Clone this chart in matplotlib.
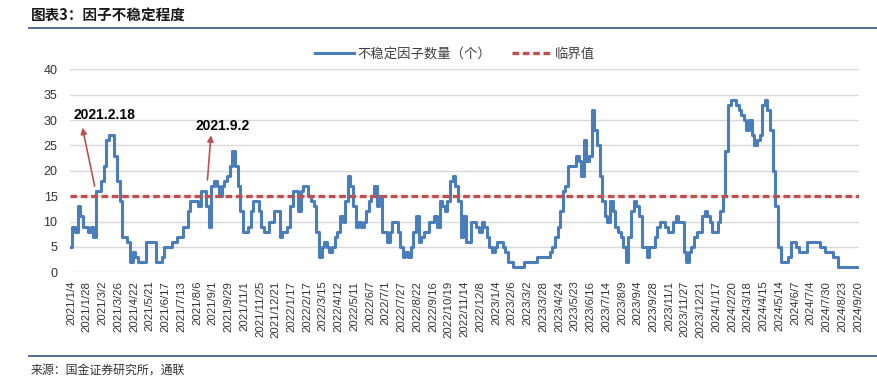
import numpy as np
import matplotlib
matplotlib.use("Agg")
import matplotlib.pyplot as plt
from matplotlib.lines import Line2D

plt.rcParams['font.family'] = ['Noto Sans CJK SC', 'DejaVu Sans']

# ---------------- data ----------------
# number of unstable factors, sampled every 3 trading days (2021/1/4 .. 2024/9/20)
unstable_count = [
    5, 9, 8, 13, 11, 9, 9, 8, 9, 7,
    16, 16, 18, 21, 26, 27, 27, 23, 18, 14,
    7, 7, 6, 2, 4, 3, 2, 2, 2, 6,
    6, 6, 6, 2, 2, 3, 5, 5, 5, 6,
    6, 7, 7, 9, 9, 12, 14, 14, 14, 13,
    16, 16, 13, 9, 17, 18, 17, 15, 17, 18,
    19, 21, 24, 21, 17, 12, 8, 8, 9, 12,
    14, 14, 12, 9, 8, 8,
    10, 10, 12, 12, 7, 8, 8, 9, 13, 16,
    16, 12, 16, 17, 17, 15, 14, 13, 8, 3,
    5, 6, 5, 4, 5, 7, 8, 11, 10, 14,
    19, 17, 13, 9, 10, 9, 10, 12, 14, 15,
    17, 13, 15, 8, 8, 6, 8, 10, 10, 8,
    5, 3, 4, 3, 5, 8, 11, 6, 7, 8,
    8, 10, 10, 11, 9, 14, 13, 12, 14, 18,
    19, 17, 14, 7, 11, 6, 6,
    10, 10, 9, 8, 10, 9, 7, 5, 4, 5,
    6, 6, 5, 4, 2, 2, 1, 1, 1, 1,
    2, 2, 2, 2, 2, 3, 3, 3, 3, 3,
    4, 5, 7, 9, 12, 16, 17, 21, 21, 21,
    23, 22, 19, 26, 22, 23, 32, 28, 25, 19,
    14, 11, 10, 14, 12, 9, 8, 7, 5, 2,
    7, 12, 14, 13, 11, 5, 5, 3, 5, 5,
    7, 9, 10, 10, 9,
    8, 8, 10, 11, 10, 10, 4, 2, 4, 5,
    7, 8, 8, 11, 12, 11, 10, 8, 8, 10,
    12, 15, 24, 33, 34, 34, 33, 32, 31, 30,
    28, 30, 27, 25, 26, 27, 33, 34, 32, 28,
    20, 13, 5, 2, 2, 2, 3, 6, 6, 5,
    4, 4, 4, 6, 6, 6, 6, 6, 5, 5,
    4, 4, 4, 3, 3, 1, 1, 1, 1, 1,
    1, 1, 1,
]
sample_step = 3          # trading days between samples
threshold = 15

tick_labels = [
    "2021/1/4", "2021/1/28", "2021/3/2", "2021/3/26", "2021/4/22", "2021/5/21",
    "2021/6/17", "2021/7/13", "2021/8/6", "2021/9/1", "2021/9/29", "2021/11/1",
    "2021/11/25", "2021/12/21", "2022/1/17", "2022/2/17", "2022/3/15", "2022/4/12",
    "2022/5/11", "2022/6/7", "2022/7/1", "2022/7/27", "2022/8/22", "2022/9/16",
    "2022/10/19", "2022/11/14", "2022/12/8", "2023/1/4", "2023/2/6", "2023/3/2",
    "2023/3/28", "2023/4/24", "2023/5/23", "2023/6/16", "2023/7/14", "2023/8/9",
    "2023/9/4", "2023/9/28", "2023/11/1", "2023/11/27", "2023/12/21", "2024/1/17",
    "2024/2/20", "2024/3/18", "2024/4/15", "2024/5/14", "2024/6/7", "2024/7/4",
    "2024/7/30", "2024/8/23", "2024/9/20",
]
tick_step = 18           # trading days between labels

annotations = [("2021.2.18", 27, 17, 13, 28.5, 3, 31.0),
               ("2021.9.2", 156, 18.2, 160, 27.0, 142, 28.8)]

# ---------------- figure ----------------
W, H = 878, 381
fig = plt.figure(figsize=(W / 100, H / 100), dpi=100)

ax_left, ax_right = 70, 859
ax_top, ax_bottom = 69.3, 272.3
ax = fig.add_axes([ax_left / W, 1 - ax_bottom / H,
                   (ax_right - ax_left) / W, (ax_bottom - ax_top) / H])

x = np.arange(len(unstable_count)) * sample_step
blue = '#4A7EBB'
red = '#C0504D'

ax.plot(x, unstable_count, color=blue, lw=2.2, drawstyle='steps-mid',
        solid_joinstyle='round', zorder=3)
ax.axhline(threshold, color=red, lw=2.4, dashes=(2.0, 1.1), zorder=4)

ax.set_ylim(0, 40)
ax.set_yticks(np.arange(0, 41, 5))
ax.set_xlim(-1.2, 901.2)
n_ticks = len(tick_labels)
ax.set_xticks(np.arange(n_ticks) * tick_step)
ax.set_xticklabels(tick_labels, rotation=90, fontsize=8.2,
                   family='Liberation Sans', color='#333333')
for lbl in ax.get_yticklabels():
    lbl.set_fontfamily('Liberation Sans')
ax.tick_params(axis='y', length=0, pad=9, labelsize=9, labelcolor='#333333')
ax.tick_params(axis='x', length=0, pad=6)
ax.grid(axis='y', color='#D9D9D9', lw=1.0)
ax.set_axisbelow(True)
for s in ax.spines.values():
    s.set_visible(False)

# annotations
for text, tx, ty, hx, hy, lx, ly in annotations:
    ax.annotate('', xy=(hx, hy), xytext=(tx, ty),
                arrowprops=dict(arrowstyle='-|>', color=red, lw=1.2,
                                mutation_scale=9, shrinkA=0, shrinkB=0),
                zorder=5)
    ax.text(lx, ly, text, fontsize=10, fontweight='bold', family='Liberation Sans',
            ha='left', va='center', color='black', zorder=6)

# legend
handles = [Line2D([], [], color=blue, lw=2.2),
           Line2D([], [], color=red, lw=2.4, dashes=(2.0, 1.1))]
fig.legend(handles, ['不稳定因子数量（个）', '临界值'], loc='center',
           bbox_to_anchor=(455 / W, 1 - 53.5 / H), ncol=2, frameon=False,
           fontsize=9.6, handlelength=2.9, handletextpad=0.25, columnspacing=1.6,
           labelcolor='#404040')

# title, rules and footer
fig.text(31 / W, 1 - 15 / H, '图表3：因子不稳定程度', fontsize=10.5, fontweight='bold',
         ha='left', va='center', color='#1a1a1a')
rule_color = '#44618F'
fig.add_artist(Line2D([29 / W, 1.0], [1 - 28.3 / H, 1 - 28.3 / H], color=rule_color, lw=1.3))
fig.add_artist(Line2D([29 / W, 1.0], [1 - 356 / H, 1 - 356 / H], color=rule_color, lw=1.3))
fig.text(31 / W, 1 - 370.5 / H, '来源：国金证券研究所，通联', fontsize=8.6,
         ha='left', va='center', color='#333333')

fig.savefig('out.png', dpi=100)
